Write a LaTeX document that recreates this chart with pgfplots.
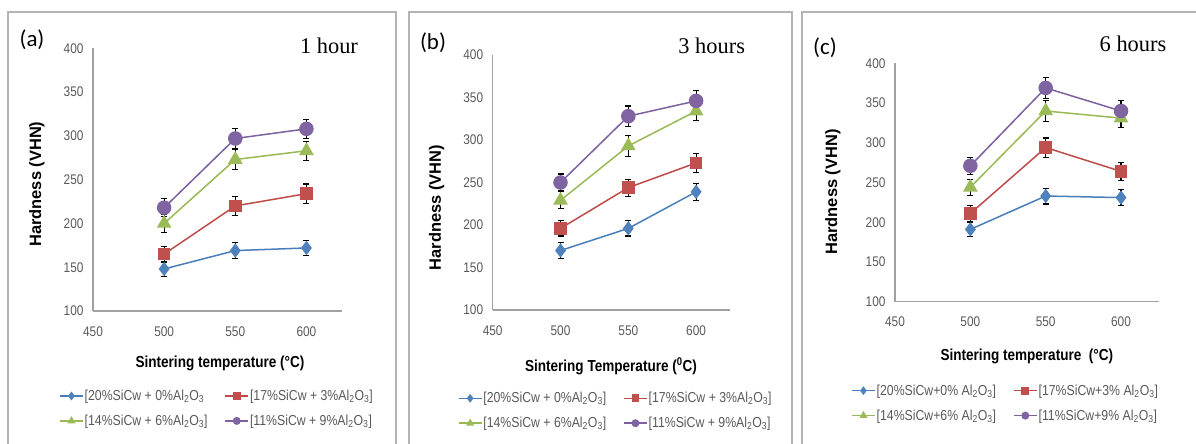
\documentclass[border=0pt]{standalone}
\usepackage{fontspec}
\setmainfont{Liberation Sans}
\newfontfamily\narrow[FakeStretch=0.85]{Liberation Sans}
\newfontfamily\serifT{Liberation Serif}
\newfontfamily\calib{Carlito}
\usepackage{pgfplots}
\pgfplotsset{compat=1.18}
\definecolor{cblue}{HTML}{4F81BD}
\definecolor{cred}{HTML}{C0504D}
\definecolor{cgreen}{HTML}{9BBB59}
\definecolor{cpurple}{HTML}{8064A2}
\definecolor{lblue}{HTML}{4A7EBB}
\definecolor{lred}{HTML}{BE4B48}
\definecolor{lgreen}{HTML}{98B954}
\definecolor{lpurple}{HTML}{7D60A0}
\definecolor{tickgray}{HTML}{595959}
\definecolor{axgray}{HTML}{A0A0A0}
\definecolor{framegray}{HTML}{B4B4B4}

\pgfplotstableread{
x y e
500 148 9
550 169 9
600 172 9
}\aBlue
\pgfplotstableread{
x y e
500 165 9
550 220 11
600 234 11
}\aRed
\pgfplotstableread{
x y e
500 200 10
550 273 11
600 283 11
}\aGreen
\pgfplotstableread{
x y e
500 218 10
550 297 11
600 308 11
}\aPurple

\pgfplotstableread{
x y e
500 170 9
550 196 9
600 239 10
}\bBlue
\pgfplotstableread{
x y e
500 196 9
550 244 10
600 273 11
}\bRed
\pgfplotstableread{
x y e
500 229 10
550 293 12
600 334 11
}\bGreen
\pgfplotstableread{
x y e
500 250 10
550 328 12
600 346 12
}\bPurple

\pgfplotstableread{
x y e
500 191 9
550 233 10
600 231 10
}\cBlue
\pgfplotstableread{
x y e
500 211 10
550 294 12
600 264 11
}\cRed
\pgfplotstableread{
x y e
500 244 10
550 340 13
600 331 12
}\cGreen
\pgfplotstableread{
x y e
500 271 11
550 369 13
600 340 13
}\cPurple

\newcommand{\tickfont}{\narrow\fontsize{14}{16}\selectfont}

\pgfplotsset{
  panel/.style={
    scale only axis, anchor=south west,
    xmin=450, xmax=625, ymin=100, ymax=400,
    xtick={450,500,550,600}, ytick={100,150,...,400},
    xticklabels={450,500,550,600},
    yticklabels={100,150,200,250,300,350,400},
    axis x line=bottom, axis y line=left,
    axis line style={-, draw=axgray, line width=1.4bp},
    major tick length=0pt,
    every tick label/.style={font=\tickfont, text=tickgray},
    xticklabel style={yshift=-12bp},
    yticklabel style={xshift=-6bp},
    ylabel={Hardness (VHN)},
    ylabel style={font=\bfseries\fontsize{16.5}{18}\selectfont, anchor=center},
    xlabel style={font=\narrow\bfseries\fontsize{16}{18}\selectfont, anchor=center},
    legend columns=2,
    legend cell align=left,
    legend style={draw=none, fill=none, anchor=north west, inner sep=0pt,
      font=\narrow\fontsize{14.5}{16}\selectfont, text=tickgray,
      nodes={inner sep=1bp},
      /tikz/every even column/.append style={column sep=16bp},
      row sep=11bp},
    legend image code/.code={\draw[mark repeat=2,mark phase=2,##1,mark size=3.2bp] plot coordinates {(0bp,0bp)(11.5bp,0bp)(23bp,0bp)};},
    error bars/y dir=both, error bars/y explicit,
    error bars/error bar style={black, line width=1.1bp, solid},
    error bars/error mark options={rotate=90, mark size=3bp, black, line width=1.1bp},
  },
  sb/.style={lblue, line width=1.5bp, mark=diamond*, mark size=6bp, mark options={fill=cblue, draw=cblue}},
  sr/.style={lred, line width=1.5bp, mark=square*, mark size=5.5bp, mark options={fill=cred, draw=cred}},
  sg/.style={lgreen, line width=1.5bp, mark=triangle*, mark size=7bp, mark options={fill=cgreen, draw=cgreen}},
  sp/.style={lpurple, line width=1.5bp, mark=*, mark size=6.5bp, mark options={fill=cpurple, draw=cpurple}},
}

\begin{document}
\begin{tikzpicture}
\path[use as bounding box] (0,0) rectangle (1196bp,444bp);
\clip (0,0) rectangle (1196bp,444bp);
\draw[framegray, line width=1.3bp] (8bp,-10bp) rectangle (396bp,432bp);
\draw[framegray, line width=1.3bp] (409bp,-10bp) rectangle (792bp,432bp);
\draw[framegray, line width=1.3bp] (802bp,-10bp) rectangle (1210bp,432bp);

% panel a
\begin{axis}[panel, at={(93bp,133bp)}, width=249bp, height=262.7bp,
  xlabel={Sintering temperature (°C)},
  xlabel style={at={(axis description cs:0.51,-0.198)}},
  ylabel style={at={(axis description cs:-0.225,0.483)}},
  legend style={at={(axis description cs:-0.1365,-0.296)}}]
\addplot[sb] table[x=x,y=y,y error=e] {\aBlue};
\addlegendentry{[20\%SiCw + 0\%Al\textsubscript{2}O\textsubscript{3}}
\addplot[sr] table[x=x,y=y,y error=e] {\aRed};
\addlegendentry{[17\%SiCw + 3\%Al\textsubscript{2}O\textsubscript{3}]}
\addplot[sg] table[x=x,y=y,y error=e] {\aGreen};
\addlegendentry{[14\%SiCw + 6\%Al\textsubscript{2}O\textsubscript{3}]}
\addplot[sp] table[x=x,y=y,y error=e] {\aPurple};
\addlegendentry{[11\%SiCw + 9\%Al\textsubscript{2}O\textsubscript{3}]}
\end{axis}

% panel b
\begin{axis}[panel, at={(492.7bp,134bp)}, width=237.3bp, height=255bp,
  xlabel={Sintering Temperature (\textsuperscript{0}C)},
  xlabel style={at={(axis description cs:0.4985,-0.222)}},
  ylabel style={at={(axis description cs:-0.236,0.402)}},
  legend style={at={(axis description cs:-0.1475,-0.318)}}]
\addplot[sb] table[x=x,y=y,y error=e] {\bBlue};
\addlegendentry{[20\%SiCw + 0\%Al\textsubscript{2}O\textsubscript{3}]}
\addplot[sr] table[x=x,y=y,y error=e] {\bRed};
\addlegendentry{[17\%SiCw + 3\%Al\textsubscript{2}O\textsubscript{3}]}
\addplot[sg] table[x=x,y=y,y error=e] {\bGreen};
\addlegendentry{[14\%SiCw + 6\%Al\textsubscript{2}O\textsubscript{3}]}
\addplot[sp] table[x=x,y=y,y error=e] {\bPurple};
\addlegendentry{[11\%SiCw + 9\%Al\textsubscript{2}O\textsubscript{3}]}
\end{axis}

% panel c
\begin{axis}[panel, at={(895bp,142.3bp)}, width=263.7bp, height=238.4bp,
  xlabel={Sintering temperature\ \ (°C)},
  xlabel style={at={(axis description cs:0.50,-0.228)}},
  ylabel style={at={(axis description cs:-0.236,0.46)}},
  legend style={at={(axis description cs:-0.1669,-0.343)}}]
\addplot[sb] table[x=x,y=y,y error=e] {\cBlue};
\addlegendentry{[20\%SiCw+0\% Al\textsubscript{2}O\textsubscript{3}]}
\addplot[sr] table[x=x,y=y,y error=e] {\cRed};
\addlegendentry{[17\%SiCw+3\% Al\textsubscript{2}O\textsubscript{3}]}
\addplot[sg] table[x=x,y=y,y error=e] {\cGreen};
\addlegendentry{[14\%SiCw+6\% Al\textsubscript{2}O\textsubscript{3}]}
\addplot[sp] table[x=x,y=y,y error=e] {\cPurple};
\addlegendentry{[11\%SiCw+9\% Al\textsubscript{2}O\textsubscript{3}]}
\end{axis}

% titles and panel labels
\node[font=\serifT\fontsize{22.5}{24}\selectfont, anchor=base] at (329bp,390bp) {1 hour};
\node[font=\serifT\fontsize{22.5}{24}\selectfont, anchor=base] at (711.7bp,390bp) {3 hours};
\node[font=\serifT\fontsize{22.5}{24}\selectfont, anchor=base] at (1133bp,392.3bp) {6 hours};
\node[font=\calib\fontsize{23}{25}\selectfont] at (32bp,404bp) {(a)};
\node[font=\calib\fontsize{23}{25}\selectfont] at (433bp,401bp) {(b)};
\node[font=\calib\fontsize{23}{25}\selectfont] at (825bp,396bp) {(c)};
\end{tikzpicture}
\end{document}
